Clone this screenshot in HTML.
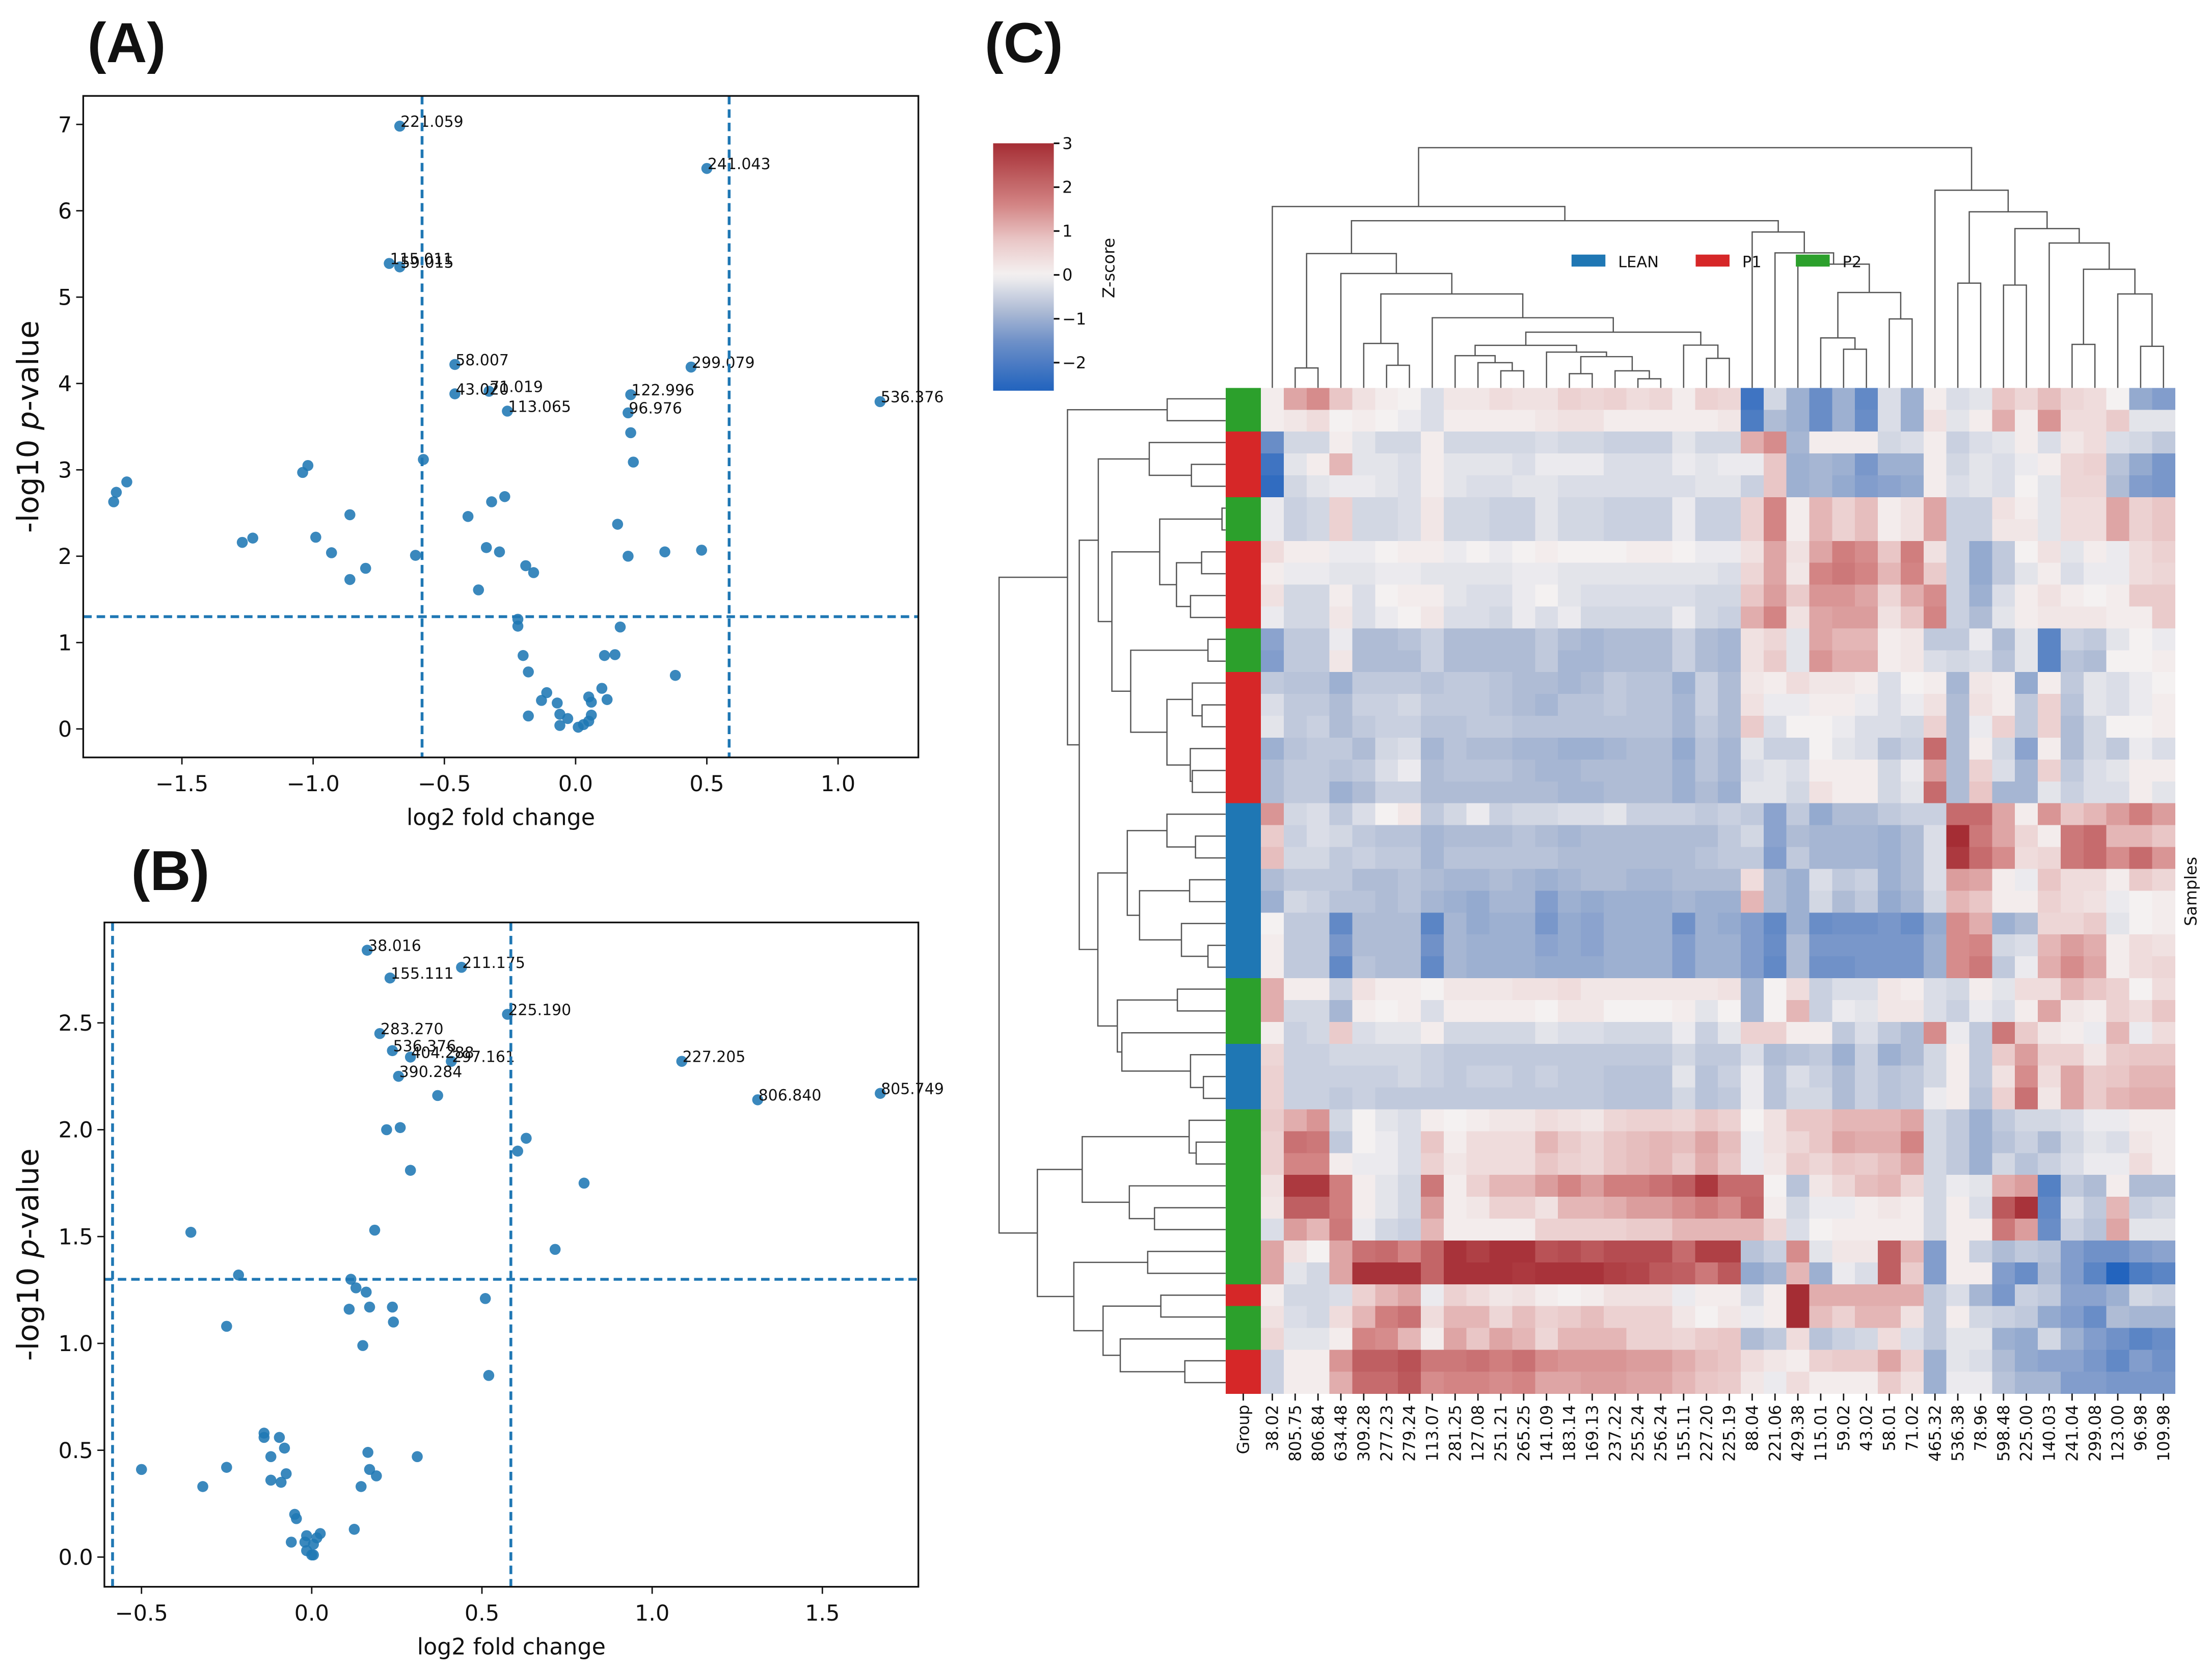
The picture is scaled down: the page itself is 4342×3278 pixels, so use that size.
<!DOCTYPE html>
<html><head><meta charset="utf-8"><title>Volcano plots and clustered heatmap</title>
<style>
html,body{margin:0;padding:0;background:#fff;}
svg{display:block;}
text{font-family:"DejaVu Sans","Liberation Sans",sans-serif;fill:#111;}
.ttl{font-family:"Liberation Sans",sans-serif;font-weight:bold;}
</style></head>
<body>
<svg id="fig" xmlns="http://www.w3.org/2000/svg" width="4342" height="3278" viewBox="0 0 1568 1184" preserveAspectRatio="none">
<rect x="0" y="0" width="1568" height="1184" fill="#fff"/>
<text class="ttl" x="62" y="44" font-size="40">(A)</text>
<text class="ttl" x="93" y="631" font-size="40">(B)</text>
<text class="ttl" x="698" y="44" font-size="40">(C)</text>
</svg>
<script>
// ---------------- Panel A data ----------------
const aX = [-0.67,0.50,-0.71,-0.67,-0.46,0.44,-0.46,-0.33,-0.26,0.21,0.20,1.16,
 0.21,0.22,-0.58,-1.02,-1.04,-1.71,-1.75,-1.76,-0.86,-0.41,-0.32,-0.27,0.16,-1.27,-1.23,-0.99,-0.93,-0.61,-0.34,-0.29,0.20,0.34,0.48,-0.80,-0.86,-0.19,-0.16,-0.37,-0.22,-0.22,0.17,-0.20,0.11,0.15,-0.18,0.38,0.10,-0.11,-0.13,-0.07,0.05,0.06,0.12,-0.18,-0.06,-0.03,0.06,-0.06,0.01,0.03,0.05];
const aY = [6.98,6.49,5.39,5.35,4.22,4.19,3.88,3.91,3.68,3.87,3.66,3.79,
 3.43,3.09,3.12,3.05,2.97,2.86,2.74,2.63,2.48,2.46,2.63,2.69,2.37,2.16,2.21,2.22,2.04,2.01,2.10,2.05,2.00,2.05,2.07,1.86,1.73,1.89,1.81,1.61,1.27,1.19,1.18,0.85,0.85,0.86,0.66,0.62,0.47,0.42,0.33,0.30,0.37,0.31,0.34,0.15,0.17,0.12,0.16,0.04,0.02,0.05,0.09];
const aLabels = ["221.059","241.043","115.011","59.015","58.007","299.079","43.020","71.019","113.065","122.996","96.976","536.376"];
const aXTicks = [-1.5,-1.0,-0.5,0.0,0.5,1.0];
const aXTickLabels = ["\u22121.5","\u22121.0","\u22120.5","0.0","0.5","1.0"];
const aYTicks = [0,1,2,3,4,5,6,7];
const aYTickLabels = ["0","1","2","3","4","5","6","7"];

// ---------------- Panel B data ----------------
const bX = [0.163,0.44,0.23,0.575,0.20,0.237,0.29,0.41,0.255,1.087,1.31,1.67,
 0.37,0.22,0.26,0.63,0.605,0.29,0.80,-0.355,0.185,0.715,-0.215,0.115,0.13,0.16,0.51,0.11,0.17,0.237,0.24,-0.25,0.15,0.52,-0.14,-0.14,-0.095,-0.08,-0.12,0.165,0.31,-0.5,-0.25,0.17,0.19,-0.075,-0.12,-0.09,-0.32,0.145,-0.05,-0.045,0.125,0.025,-0.015,0.015,-0.06,-0.02,0.005,-0.015,0.0,0.005];
const bY = [2.84,2.76,2.71,2.54,2.45,2.37,2.34,2.32,2.25,2.32,2.14,2.17,
 2.16,2.00,2.01,1.96,1.90,1.81,1.75,1.52,1.53,1.44,1.32,1.30,1.26,1.24,1.21,1.16,1.17,1.17,1.10,1.08,0.99,0.85,0.58,0.56,0.56,0.51,0.47,0.49,0.47,0.41,0.42,0.41,0.38,0.39,0.36,0.35,0.33,0.33,0.20,0.18,0.13,0.11,0.10,0.09,0.07,0.07,0.06,0.03,0.01,0.01];
const bLabels = ["38.016","211.175","155.111","225.190","283.270","536.376","404.288","297.161","390.284","227.205","806.840","805.749"];
const bXTicks = [-0.5,0.0,0.5,1.0,1.5];
const bXTickLabels = ["\u22120.5","0.0","0.5","1.0","1.5"];
const bYTicks = [0,0.5,1.0,1.5,2.0,2.5];
const bYTickLabels = ["0.0","0.5","1.0","1.5","2.0","2.5"];

// ---------------- Panel C data ----------------
const colNames = ["38.02","805.75","806.84","634.48","309.28","277.23","279.24","113.07","281.25","127.08","251.21","265.25","141.09","183.14","169.13","237.22","255.24","256.24","155.11","227.20","225.19","88.04","221.06","429.38","115.01","59.02","43.02","58.01","71.02","465.32","536.38","78.96","598.48","225.00","140.03","241.04","299.08","123.00","96.98","109.98"];
const rowGroups = ["P2","P2","P1","P1","P1","P2","P2","P1","P1","P1","P1","P2","P2","P1","P1","P1","P1","P1","P1","LEAN","LEAN","LEAN","LEAN","LEAN","LEAN","LEAN","LEAN","P2","P2","P2","LEAN","LEAN","LEAN","P2","P2","P2","P2","P2","P2","P2","P2","P1","P2","P2","P1","P1"];
const zRows = [
[0.1,1.2,1.5,0.8,0.3,0.1,0,-0.3,0.2,0.2,0.4,0.3,0.3,0.6,0.5,0.6,0.4,0.5,0.1,0.6,0.5,-2.2,-0.4,-1.0,-1.6,-1.0,-1.7,-0.3,-1.0,0.1,-0.3,-0.2,0.8,0.5,0.9,0.5,0.4,0,-1.1,-1.3],
[0.1,0.2,0.4,0,0.1,0,-0.1,-0.3,0.1,0.1,0.1,0.1,0.2,0.3,0.3,0.1,0.1,0.1,0.1,0.1,0.2,-2.0,-0.8,-1.0,-1.6,-1.0,-1.6,-0.3,-1.0,0.3,-0.2,0.1,1.1,0.1,1.4,0.4,0.4,0.7,-0.2,-0.2],
[-1.6,-0.4,-0.4,0.1,-0.2,-0.4,-0.4,0.1,-0.4,-0.4,-0.4,-0.4,-0.3,-0.4,-0.4,-0.5,-0.5,-0.5,-0.2,-0.4,-0.4,1.1,1.5,-0.9,0.1,0.1,0.1,-0.4,-0.3,0.1,-0.5,-0.3,-0.2,0.1,-0.3,0.2,0.4,-0.3,-0.4,-0.6],
[-2.2,-0.2,0.1,1.0,-0.2,-0.2,-0.3,0.1,-0.2,-0.2,-0.2,-0.3,-0.1,-0.1,-0.1,-0.3,-0.3,-0.3,-0.1,-0.2,-0.1,-0.1,0.8,-1.0,-0.9,-1.0,-1.4,-1.0,-1.0,0.1,-0.4,-0.2,-0.3,-0.1,0.1,0.5,0.6,-0.7,-1.1,-1.4],
[-2.4,-0.4,-0.2,-0.1,-0.1,-0.2,-0.3,0.1,-0.2,-0.3,-0.3,-0.2,-0.2,-0.3,-0.3,-0.3,-0.3,-0.3,-0.3,-0.2,-0.2,-0.5,0.8,-1.0,-0.9,-1.1,-1.3,-1.2,-1.1,0.1,-0.3,-0.2,-0.3,0,-0.2,0.5,0.5,-0.8,-1.3,-1.4],
[-0.1,-0.5,-0.4,0.6,-0.4,-0.4,-0.3,0.2,-0.4,-0.4,-0.5,-0.5,-0.2,-0.4,-0.4,-0.5,-0.5,-0.5,-0.1,-0.5,-0.5,0.6,1.6,0.1,1.0,0.6,0.9,0.1,0.3,1.2,-0.5,-0.5,0.3,0.1,-0.2,0.4,0.4,1.2,0.6,0.8],
[-0.1,-0.5,-0.4,0.6,-0.4,-0.4,-0.3,0.2,-0.4,-0.4,-0.5,-0.5,-0.2,-0.4,-0.4,-0.5,-0.5,-0.5,-0.1,-0.5,-0.5,0.6,1.6,0.1,1.0,0.6,0.9,0.1,0.3,1.2,-0.5,-0.5,0.2,0.2,-0.2,0.4,0.4,1.2,0.6,0.8],
[0.4,0.1,0.1,-0.1,-0.1,0,0.1,0.1,-0.1,0,-0.1,0,0.1,0,0,0,0.1,0.1,0,-0.1,-0.1,0.3,1.2,0.3,1.2,1.7,1.5,0.8,1.7,0.3,-0.5,-1.1,-0.6,0,0.3,-0.2,0.1,-0.1,0.4,0.6],
[0.1,-0.1,-0.1,-0.2,-0.2,-0.1,-0.1,-0.2,-0.2,-0.2,-0.2,-0.1,-0.1,-0.2,-0.2,-0.2,-0.2,-0.2,-0.2,-0.2,-0.3,0.5,1.2,0.2,1.6,1.8,1.6,1.0,1.6,0.7,-0.5,-1.1,-0.6,-0.2,0.1,-0.3,-0.1,-0.1,0.4,0.5],
[0.3,-0.4,-0.4,0.1,-0.3,0,0.1,0.1,-0.2,-0.3,-0.3,-0.1,0,-0.2,-0.3,-0.3,-0.3,-0.3,-0.3,-0.4,-0.4,0.8,1.3,0.7,1.4,1.4,1.2,0.5,1.1,1.5,-0.5,-1.0,-0.3,0.1,0.3,0.1,0,0.1,0.7,0.7],
[-0.1,-0.4,-0.4,0.2,-0.3,-0.1,0,0.2,-0.3,-0.3,-0.4,-0.1,-0.3,-0.1,-0.4,-0.4,-0.4,-0.4,-0.1,-0.4,-0.5,1.1,1.6,0.3,1.2,1.3,1.3,0.3,0.8,1.6,-0.5,-0.8,-0.2,0.1,0.2,0.2,0.2,0.1,0.1,0.7],
[-1.2,-0.6,-0.6,-0.1,-0.8,-0.8,-0.7,-0.5,-0.8,-0.8,-0.8,-0.8,-0.6,-0.8,-0.9,-0.8,-0.8,-0.8,-0.5,-0.8,-0.9,0.3,0.5,-0.2,1.2,1.0,1.0,0.1,0.2,-0.6,-0.6,-0.1,-0.8,-0.2,-1.8,-0.5,-0.6,-0.2,0,-0.1],
[-1.3,-0.6,-0.6,0.2,-0.8,-0.8,-0.8,-0.5,-0.8,-0.8,-0.8,-0.8,-0.6,-0.9,-0.9,-0.8,-0.8,-0.8,-0.5,-0.8,-0.9,0.3,0.7,-0.2,1.4,1.1,1.1,0.1,0.2,-0.3,-0.4,-0.3,-0.7,-0.2,-1.8,-0.7,-0.8,0,0,0.1],
[-0.6,-0.7,-0.7,-1.0,-0.6,-0.6,-0.6,-0.7,-0.6,-0.6,-0.7,-0.8,-0.8,-0.9,-0.8,-0.6,-0.7,-0.7,-1.0,-0.5,-0.8,0.2,0.1,0.4,0.2,0.2,0.1,-0.3,0,0.1,-0.9,0.2,0.1,-1.1,0.1,-0.6,-0.2,-0.3,-0.1,0],
[-0.3,-0.6,-0.6,-0.8,-0.5,-0.5,-0.4,-0.6,-0.6,-0.6,-0.7,-0.8,-0.9,-0.7,-0.7,-0.6,-0.7,-0.7,-0.9,-0.5,-0.8,0.3,-0.1,-0.1,0.1,0.1,-0.1,-0.3,-0.1,0.3,-0.8,0.3,0.1,-0.6,0.6,-0.7,-0.2,-0.3,-0.1,0.1],
[-0.2,-0.6,-0.5,-0.8,-0.6,-0.5,-0.5,-0.7,-0.7,-0.6,-0.6,-0.7,-0.7,-0.7,-0.7,-0.7,-0.7,-0.7,-0.9,-0.6,-0.8,0.7,-0.3,0,0,-0.1,-0.3,-0.3,-0.4,0.6,-0.8,-0.1,0.6,-0.6,0.6,-0.8,-0.4,0,0,0.1],
[-1.0,-0.7,-0.6,-0.6,-0.8,-0.4,-0.3,-0.9,-0.7,-0.8,-0.8,-0.9,-0.9,-1.0,-1.0,-0.9,-0.8,-0.8,-1.1,-0.7,-0.9,-0.2,-0.5,-0.5,0,-0.2,-0.3,-0.7,-0.5,2.0,-0.8,0.1,-0.4,-1.2,0.1,-0.8,-0.4,-0.6,-0.1,-0.3],
[-0.8,-0.6,-0.6,-0.7,-0.6,-0.3,-0.1,-0.8,-0.7,-0.7,-0.7,-0.8,-0.9,-0.9,-0.8,-0.8,-0.8,-0.8,-1.0,-0.7,-0.9,-0.3,-0.2,-0.3,0.1,0.1,0.1,-0.4,-0.1,1.3,-0.8,0.6,-0.3,-0.9,0.6,-0.6,-0.3,-0.2,0.1,0.1],
[-0.8,-0.6,-0.6,-1.0,-0.8,-0.5,-0.5,-0.8,-0.8,-0.8,-0.8,-0.8,-0.8,-0.9,-0.9,-0.8,-0.8,-0.8,-1.0,-0.8,-1.0,-0.2,-0.2,-0.4,0.3,0.1,0.1,-0.4,-0.2,2.0,-0.8,0.8,-0.9,-0.9,-0.2,-0.5,-0.3,-0.3,0.1,-0.2],
[1.4,-0.4,-0.3,-0.6,-0.3,0,0.2,-0.6,-0.4,-0.1,-0.5,-0.4,-0.4,-0.3,-0.3,-0.2,-0.5,-0.5,-0.5,-0.6,-0.5,-0.6,-1.2,-0.6,-1.1,-0.8,-0.8,-0.6,-0.5,-0.5,2.0,2.0,1.2,0.1,1.4,0.8,1.0,1.3,1.7,1.3],
[0.7,-0.5,-0.3,-0.4,-0.6,-0.7,-0.7,-0.9,-0.8,-0.8,-0.8,-0.7,-0.8,-0.9,-0.8,-0.8,-0.8,-0.8,-0.8,-0.8,-0.6,-0.4,-1.2,-0.8,-0.9,-0.9,-0.9,-1.0,-0.8,-0.3,3.0,1.8,1.2,0.5,0.1,1.8,2.0,1.0,1.0,0.8],
[0.9,-0.4,-0.4,-0.6,-0.5,-0.6,-0.6,-0.9,-0.7,-0.7,-0.7,-0.7,-0.7,-0.8,-0.8,-0.8,-0.8,-0.8,-0.8,-0.7,-0.6,-0.6,-1.3,-0.6,-0.9,-0.9,-0.9,-1.0,-0.8,-0.3,2.8,2.0,1.5,0.4,0.5,1.8,2.0,1.5,2.0,1.4],
[-0.8,-0.6,-0.6,-0.6,-0.8,-0.8,-0.7,-0.8,-0.9,-0.9,-0.8,-0.9,-1.0,-0.9,-0.8,-0.8,-0.9,-0.9,-0.8,-0.8,-0.8,0.4,-0.8,-1.0,-0.3,-0.6,-0.5,-1.0,-0.8,-0.3,1.3,1.2,0.1,-0.1,0.8,0.4,0.4,0.1,0.7,0.5],
[-1.0,-0.4,-0.5,-0.7,-0.7,-0.8,-0.7,-0.9,-1.0,-1.1,-0.9,-0.9,-1.3,-1.0,-1.1,-1.0,-1.0,-1.0,-0.9,-1.0,-1.0,1.0,-0.8,-1.0,-0.4,-0.8,-0.6,-1.1,-0.9,-0.4,1.0,0.8,0.1,0.1,0.6,0.4,0.3,-0.1,0,0.1],
[0,-0.6,-0.6,-1.7,-0.8,-0.8,-0.8,-1.8,-0.9,-1.1,-1.0,-1.0,-1.4,-1.1,-1.2,-1.0,-1.0,-1.0,-1.5,-1.0,-1.1,-1.3,-1.7,-1.0,-1.6,-1.5,-1.5,-1.4,-1.6,-1.1,1.5,1.1,-1.0,-0.8,0.5,0.5,0.7,-0.2,0,0.1],
[0.1,-0.6,-0.6,-1.4,-0.8,-0.8,-0.8,-1.5,-0.9,-1.0,-1.0,-1.0,-1.2,-1.1,-1.2,-1.0,-1.0,-1.0,-1.3,-1.0,-1.0,-1.3,-1.6,-0.8,-1.4,-1.4,-1.4,-1.4,-1.4,-1.0,1.5,1.6,-0.4,-0.3,1.0,1.3,1.1,0.1,0.4,0.3],
[0.1,-0.6,-0.6,-1.7,-0.7,-0.8,-0.8,-1.7,-0.9,-1.0,-1.0,-1.0,-1.1,-1.1,-1.1,-1.0,-1.0,-1.0,-1.3,-1.0,-1.0,-1.3,-1.7,-0.8,-1.5,-1.5,-1.4,-1.4,-1.4,-1.0,1.5,1.8,-0.6,-0.1,1.1,1.5,1.2,0.1,0.4,0.5],
[1.1,0.1,0.1,-0.5,0.3,0.1,0.1,0,0.2,0.2,0.2,0.3,0.3,0.4,0.2,0.2,0.2,0.2,0.2,0.2,0.3,-0.9,0,0.4,-0.5,-0.3,-0.3,0.2,0.1,-0.3,-0.4,0.1,-0.2,0.4,0.4,1.0,0.8,0.6,0,0.4],
[1.1,-0.4,-0.4,-0.9,0.1,0,0.1,-0.3,0.1,0.1,0.1,0.1,0,0.2,0.2,0,0,0,0.1,-0.2,0,-0.9,0,1.0,-0.5,-0.1,-0.2,0.2,0.2,-0.3,-0.5,-0.1,-0.3,0.1,1.2,0.2,0.1,0.6,0.4,0.8],
[0.1,-0.5,-0.4,0.7,-0.3,-0.2,-0.2,0.1,-0.4,-0.4,-0.4,-0.4,-0.2,-0.3,-0.3,-0.4,-0.4,-0.4,-0.1,-0.5,-0.2,0.6,0.6,0.1,0.1,-0.6,-0.3,-0.6,-0.8,1.5,-0.1,-0.6,1.8,0.7,0.2,0.1,-0.1,1.0,-0.1,0.4],
[0.5,-0.5,-0.5,-0.4,-0.4,-0.4,-0.4,-0.5,-0.6,-0.6,-0.6,-0.6,-0.6,-0.6,-0.6,-0.6,-0.6,-0.6,-0.4,-0.6,-0.6,-0.3,-0.8,-0.7,-0.6,-1.0,-0.5,-1.0,-0.8,-0.4,0.1,-0.6,0.7,1.3,0.6,0.6,0.2,0.7,0.8,0.8],
[0.6,-0.5,-0.5,-0.5,-0.5,-0.5,-0.4,-0.5,-0.6,-0.5,-0.5,-0.6,-0.5,-0.6,-0.6,-0.7,-0.7,-0.7,-0.2,-0.7,-0.5,-0.1,-0.7,-0.3,-0.5,-0.8,-0.5,-0.7,-0.6,-0.4,0.1,-0.6,0.3,1.5,0.4,1.2,0.7,0.8,1.0,1.0],
[0.6,-0.5,-0.5,-0.6,-0.5,-0.6,-0.6,-0.6,-0.6,-0.6,-0.6,-0.6,-0.6,-0.6,-0.6,-0.7,-0.7,-0.7,-0.4,-0.7,-0.6,-0.1,-0.7,-0.4,-0.4,-0.8,-0.5,-0.7,-0.6,-0.1,0.1,-0.7,0.6,1.9,0.2,1.2,0.7,1.0,1.1,1.1],
[0.7,1.1,1.4,-0.4,0,-0.2,-0.3,0.1,0,0.1,0.2,0.2,0.4,0.3,0.2,0.5,0.6,0.6,0.5,0.8,0.6,0,0.3,0.8,0.8,1.0,1.0,1.0,1.2,-0.4,-0.6,-1.0,-0.6,-0.4,-0.4,-0.3,-0.1,-0.1,0.1,0.1],
[0.6,1.9,1.8,-0.6,0,-0.1,-0.3,0.8,0.1,0.4,0.4,0.4,1.0,0.7,0.5,0.8,0.9,1.0,0.9,1.2,0.9,-0.1,0.3,0.5,0.8,1.2,1.1,1.1,1.6,-0.4,-0.6,-1.0,-0.7,-0.5,-0.8,-0.4,-0.2,-0.3,0.2,0.1],
[0.6,1.6,1.6,0.1,-0.1,-0.1,-0.3,0.6,0.2,0.4,0.4,0.4,0.8,0.6,0.5,0.8,0.9,1.0,0.7,1.1,0.8,-0.1,0.2,0.7,0.5,0.8,0.7,0.9,1.2,-0.4,-0.6,-1.0,-0.4,-0.7,-0.5,-0.3,-0.1,-0.1,0.4,0.1],
[0.3,2.8,2.8,1.7,0.1,-0.2,-0.4,1.8,0.1,0.6,1.0,1.0,1.3,1.6,1.3,1.7,1.7,1.9,2.2,2.8,2.0,2.0,0,-0.7,0.2,0.5,0.9,1.0,0.5,-0.4,-0.1,-0.2,1.1,1.3,-1.9,-0.6,-0.8,0.1,-0.8,-0.8],
[0.2,2.2,2.2,1.7,0.1,-0.2,-0.4,1.3,0.1,0.2,0.6,0.6,0.3,1.0,1.0,1.1,1.3,1.3,1.5,1.7,1.5,2.1,0.1,-0.4,-0.1,-0.1,0.1,0.2,0.1,-0.4,0.1,-0.3,2.3,2.9,-1.7,-0.3,-0.6,1.0,-0.5,-0.4],
[-0.3,1.3,1.0,1.8,-0.1,-0.4,-0.5,1.0,0.1,0.1,0.1,0.1,0.6,0.6,0.6,0.6,0.7,0.7,1.0,1.0,1.0,1.0,0.5,-0.3,0,0.1,0.1,0.1,0.1,-0.4,0.1,0.1,1.8,1.3,-1.6,-0.5,-0.7,1.2,-0.2,-0.2],
[1.2,0.3,0,1.2,1.9,2.0,1.6,2.1,2.9,2.7,2.9,2.9,2.4,2.5,2.3,2.5,2.5,2.5,2.0,2.7,2.7,-0.7,-0.5,1.5,-0.2,0.2,0.2,2.2,1.0,-1.3,0.1,-0.5,-0.8,-0.6,-0.7,-1.3,-1.5,-1.5,-1.3,-1.2],
[1.2,-0.2,-0.4,1.2,2.9,2.9,2.9,2.1,2.9,2.9,2.9,2.8,2.9,2.9,2.9,2.7,2.6,2.3,2.2,1.8,2.3,-1.1,-0.9,1.0,-1.0,-0.1,-0.3,2.2,0.7,-1.3,0.1,0.1,-1.3,-1.6,-0.8,-1.3,-1.8,-2.6,-2.0,-1.8],
[0.1,-0.4,-0.4,-0.3,0.6,1.0,1.2,-0.1,0.6,0.4,0.2,0.3,0.1,0,0.1,0.3,0.3,0.3,-0.1,0.1,0.1,-0.3,0.1,3.0,1.1,1.1,1.1,1.1,1.1,-0.6,-0.3,-0.9,-1.4,-0.5,-0.6,-1.2,-1.2,-1.0,-0.4,-0.5],
[0.3,-0.3,-0.4,0.4,1.0,1.7,1.9,0.4,1.0,1.0,0.5,0.9,0.6,0.7,0.9,0.6,0.6,0.6,0.2,0,0.2,-0.1,0.1,3.0,0.9,0.6,1.0,1.0,0.3,-0.6,0.1,-0.4,-0.5,-0.6,-1.1,-1.3,-1.6,-0.8,-0.9,-0.9],
[0.5,-0.2,-0.2,0.1,1.6,1.5,1.0,0.1,1.2,0.8,1.2,1.0,0.5,1.0,1.0,1.0,0.6,0.6,0.5,0.7,0.8,-0.8,-0.6,0.4,-0.7,-0.5,-0.4,0.4,-0.3,-0.6,-0.2,-0.2,-1.0,-1.1,-0.4,-1.0,-1.3,-1.5,-1.8,-1.6],
[-0.5,0.1,0.1,1.4,2.2,2.2,2.4,1.8,1.8,1.9,1.7,1.9,1.5,1.4,1.4,1.4,1.3,1.3,1.1,0.9,0.8,0.4,0.2,0.1,0.6,0.7,0.7,1.2,0.6,-1.0,-0.2,-0.3,-0.8,-1.1,-1.2,-1.2,-1.4,-1.7,-1.3,-1.5],
[-0.5,0.1,0.1,1.1,2.0,2.0,2.3,1.5,1.6,1.6,1.5,1.6,1.2,1.2,1.3,1.3,1.2,1.2,1.0,0.8,0.7,0.2,-0.1,0.4,0.1,0.1,0.1,0.7,0.3,-1.0,-0.1,-0.1,-0.7,-0.9,-0.9,-1.3,-1.3,-1.4,-1.4,-1.4]
];
// dendrogram trees: [left, right, mergeDepth(0..1)]; leaves are indices
const colTree = [
 [0,[[[1,2,0.083],[3,[[4,[5,6,0.094],0.185],[7,[[[8,[9,[10,11,0.071],0.105],0.134],[12,[[13,14,0.059],[15,[16,17,0.038],0.071],0.130],0.149],0.177],[18,[19,20,0.123],0.178],0.232],0.292],0.391],0.476],0.559],
  [21,[22,[23,[[24,[25,26,0.161],0.208],[27,28,0.287],0.397],0.515],0.562],0.649],0.696],0.755],
 [29,[[30,31,0.436],[[32,33,0.428],[34,[[35,36,0.181],[37,[38,39,0.173],0.391],0.494],0.603],0.663],0.733],0.823],
 1.0];
const rowTree = [
 [[0,1,0.258],[[[2,[3,4,0.151],0.337],[[[5,6,0.016],[[7,8,0.106],[9,10,0.155],0.217],0.291],[[11,12,0.078],[[13,[14,15,0.104],0.147],[16,[17,18,0.147],0.156],0.259],0.419],0.502],0.562],
  [[[19,[20,21,0.133],0.259],[[22,23,0.159],[24,[25,26,0.078],0.195],0.380],0.434],[[27,28,0.213],[29,[30,[31,32,0.098],0.155],0.458],0.478],0.564],0.646],0.698],
 [[[33,[34,35,0.130],0.161],[36,[37,38,0.314],0.425],0.633],[[39,40,0.344],[[41,42,0.286],[43,[44,45,0.180],0.465],0.541],0.670],0.831],
 1.0];
const groupNames = ["LEAN","P1","P2"];
const cbTicks = [-2,-1,0,1,2,3];

// ---------------- helpers ----------------
const NS = "http://www.w3.org/2000/svg";
const svg = document.getElementById("fig");
function mk(tag, attrs, parent, txt) {
  const e = document.createElementNS(NS, tag);
  for (const k in attrs) e.setAttribute(k, attrs[k]);
  if (txt !== undefined) e.textContent = txt;
  (parent || svg).appendChild(e);
  return e;
}
const groupColor = {LEAN:"#1f77b4", P1:"#d62728", P2:"#2ca02c"};
const stops = [[-2.6,[35,100,190]],[-1.5,[112,145,200]],[-0.8,[175,188,213]],[0,[244,241,241]],[0.8,[233,198,198]],[1.6,[211,132,132]],[3.0,[165,45,52]]];
function zColor(v) {
  if (v <= stops[0][0]) return "rgb(" + stops[0][1].join(",") + ")";
  for (let i = 1; i < stops.length; i++) {
    if (v <= stops[i][0]) {
      const t = (v - stops[i-1][0]) / (stops[i][0] - stops[i-1][0]);
      const a = stops[i-1][1], b = stops[i][1];
      return "rgb(" + [0,1,2].map(j => Math.round(a[j] + (b[j]-a[j]) * t)).join(",") + ")";
    }
  }
  return "rgb(" + stops[stops.length-1][1].join(",") + ")";
}

// ---------------- volcano ----------------
function volcano(p, xs, ys, labels, xt, xtl, yt, ytl) {
  const g = mk("g", {});
  
  
  const sx = v => p.left + (v - p.x0) / (p.x1 - p.x0) * (p.right - p.left);
  const sy = v => p.bottom - (v - p.y0) / (p.y1 - p.y0) * (p.bottom - p.top);
  // points
  for (let i = 0; i < xs.length; i++) {
    const c = mk("circle", {cx: sx(xs[i]), cy: sy(ys[i]), r: 3.9, fill: "#1f77b4", "fill-opacity": 0.88}, g);
    
    
  }
  for (let i = 0; i < labels.length; i++) {
    const t = mk("text", {x: sx(xs[i]) + 0.5, y: sy(ys[i]) + 0.5, "font-size": 10.8}, g, labels[i]);
    
    
  }
  // threshold lines
  const dash = {stroke: "#1f77b4", "stroke-width": 2, "stroke-dasharray": "6,3.5", fill: "none"};
  [-0.585, 0.585].forEach(v => {
    if (v < p.x0 || v > p.x1) return;
    const l = mk("line", Object.assign({x1: sx(v), x2: sx(v), y1: p.top, y2: p.bottom}, dash), g);
    
    
  });
  const h = mk("line", Object.assign({x1: p.left, x2: p.right, y1: sy(1.3), y2: sy(1.3)}, dash), g);
  
  
  // frame
  const fr = mk("rect", {x: p.left, y: p.top, width: p.right - p.left, height: p.bottom - p.top, fill: "none", stroke: "#111", "stroke-width": 1.2}, g);
  
  
  // ticks
  for (let i = 0; i < xt.length; i++) {
    const x = sx(xt[i]);
    mk("line", {x1: x, x2: x, y1: p.bottom, y2: p.bottom + 5, stroke: "#111", "stroke-width": 1}, g);
    const t = mk("text", {x: x, y: p.bottom + 24, "font-size": 15.5, "text-anchor": "middle"}, g, xtl[i]);
    
    
  }
  for (let i = 0; i < yt.length; i++) {
    const y = sy(yt[i]);
    mk("line", {x1: p.left - 5, x2: p.left, y1: y, y2: y, stroke: "#111", "stroke-width": 1}, g);
    const t = mk("text", {x: p.left - 8, y: y + 5.5, "font-size": 15.5, "text-anchor": "end"}, g, ytl[i]);
    
    
  }
  const xl = mk("text", {x: (p.left + p.right) / 2, y: p.bottom + 48, "font-size": 16, "text-anchor": "middle"}, g, "log2 fold change");
  
  
  const yl = mk("text", {x: 0, y: 0, "font-size": 21, "text-anchor": "middle", transform: "translate(" + p.ylx + "," + ((p.top + p.bottom) / 2) + ") rotate(-90)"}, g);
  
  
  mk("tspan", {}, yl, "-log10 ");
  mk("tspan", {"font-style": "italic"}, yl, "p");
  mk("tspan", {}, yl, "-value");
}
volcano({id:"panel-a", left:59, right:651, top:68, bottom:537, x0:-1.876, x1:1.306, y0:-0.33, y1:7.33, ylx:27},
  aX, aY, aLabels, aXTicks, aXTickLabels, aYTicks, aYTickLabels);
volcano({id:"panel-b", left:74, right:651, top:654, bottom:1125, x0:-0.609, x1:1.782, y0:-0.139, y1:2.97, ylx:27},
  bX, bY, bLabels, bXTicks, bXTickLabels, bYTicks, bYTickLabels);

// ---------------- heatmap ----------------
const HM = {left: 893.8, right: 1541.7, top: 275, bottom: 988, gLeft: 868.8};
const cw = (HM.right - HM.left) / colNames.length;
const rh = (HM.bottom - HM.top) / zRows.length;
const hg = mk("g", {"shape-rendering": "crispEdges"});


for (let r = 0; r < zRows.length; r++) {
  const gr = mk("rect", {x: HM.gLeft, y: HM.top + r * rh, width: HM.left - HM.gLeft + 0.3, height: rh + 0.3, fill: groupColor[rowGroups[r]]}, hg);
  
  
  for (let c = 0; c < colNames.length; c++) {
    const cell = mk("rect", {x: HM.left + c * cw, y: HM.top + r * rh, width: cw + 0.3, height: rh + 0.3, fill: zColor(zRows[r][c])}, hg);
    
    
  }
}
// column labels
const gl = mk("text", {x: 0, y: 0, "font-size": 11.5, "text-anchor": "end", transform: "translate(" + ((HM.gLeft + HM.left) / 2 + 4) + ",996) rotate(-90)"}, svg, "Group");


mk("line", {x1: (HM.gLeft + HM.left) / 2, x2: (HM.gLeft + HM.left) / 2, y1: HM.bottom, y2: HM.bottom + 5, stroke: "#111", "stroke-width": 1});
for (let c = 0; c < colNames.length; c++) {
  const x = HM.left + (c + 0.5) * cw;
  mk("line", {x1: x, x2: x, y1: HM.bottom, y2: HM.bottom + 5, stroke: "#111", "stroke-width": 1});
  const t = mk("text", {x: 0, y: 0, "font-size": 11.5, "text-anchor": "end", transform: "translate(" + (x + 4) + ",996) rotate(-90)"}, svg, colNames[c]);
  
  
}
const sl = mk("text", {x: 0, y: 0, "font-size": 11.5, "text-anchor": "middle", transform: "translate(1557,632) rotate(-90)"}, svg, "Samples");



// ---------------- dendrograms ----------------
function dendro(tree, leafPos, depthPos, horizontalLeaves, name) {
  const g = mk("g", {fill: "none", stroke: "#555", "stroke-width": 0.9});
  
  
  function walk(n) {
    if (typeof n === "number") return {p: leafPos(n), d: 0};
    const a = walk(n[0]), b = walk(n[1]), d = n[2];
    let path;
    if (horizontalLeaves) {
      path = "M" + a.p + "," + depthPos(a.d) + "V" + depthPos(d) + "H" + b.p + "V" + depthPos(b.d);
    } else {
      path = "M" + depthPos(a.d) + "," + a.p + "H" + depthPos(d) + "V" + b.p + "H" + depthPos(b.d);
    }
    mk("path", {d: path}, g);
    return {p: (a.p + b.p) / 2, d: d};
  }
  walk(tree);
}
dendro(colTree, i => HM.left + (i + 0.5) * cw, d => HM.top - d * 170.3, true, 'column-dendrogram');
dendro(rowTree, i => HM.top + (i + 0.5) * rh, d => HM.gLeft - d * 160.6, false, 'row-dendrogram');

// ---------------- colorbar ----------------
const CB = {x: 704, w: 43, top: 101.6, bottom: 277, vmax: 3.0, vmin: -2.64};
const defs = mk("defs", {});
const grad = mk("linearGradient", {id: "cbgrad", x1: 0, y1: 1, x2: 0, y2: 0}, defs);
for (let i = 0; i <= 40; i++) {
  const v = CB.vmin + (CB.vmax - CB.vmin) * i / 40;
  mk("stop", {offset: (i / 40), "stop-color": zColor(v)}, grad);
}
const cb = mk("rect", {x: CB.x, y: CB.top, width: CB.w, height: CB.bottom - CB.top, fill: "url(#cbgrad)"});


const cy = v => CB.bottom - (v - CB.vmin) / (CB.vmax - CB.vmin) * (CB.bottom - CB.top);
for (let i = 0; i < cbTicks.length; i++) {
  const y = cy(cbTicks[i]);
  mk("line", {x1: CB.x + CB.w, x2: CB.x + CB.w + 4, y1: y, y2: y, stroke: "#111", "stroke-width": 1.2});
  const t = mk("text", {x: CB.x + CB.w + 6, y: y + 4, "font-size": 11.5}, svg, cbTicks[i] < 0 ? "\u2212" + Math.abs(cbTicks[i]) : String(cbTicks[i]));
  
  
}
const zl = mk("text", {x: 0, y: 0, "font-size": 11.5, "text-anchor": "middle", transform: "translate(790,190) rotate(-90)"}, svg, "Z-score");



// ---------------- legend ----------------
const legX = [1114, 1202, 1273];
for (let i = 0; i < groupNames.length; i++) {
  const sw = mk("rect", {x: legX[i], y: 180.5, width: 24, height: 8.5, fill: groupColor[groupNames[i]]});
  
  
  const t = mk("text", {x: legX[i] + 33, y: 189.5, "font-size": 11}, svg, groupNames[i]);
  
  
}
</script>
</body></html>
